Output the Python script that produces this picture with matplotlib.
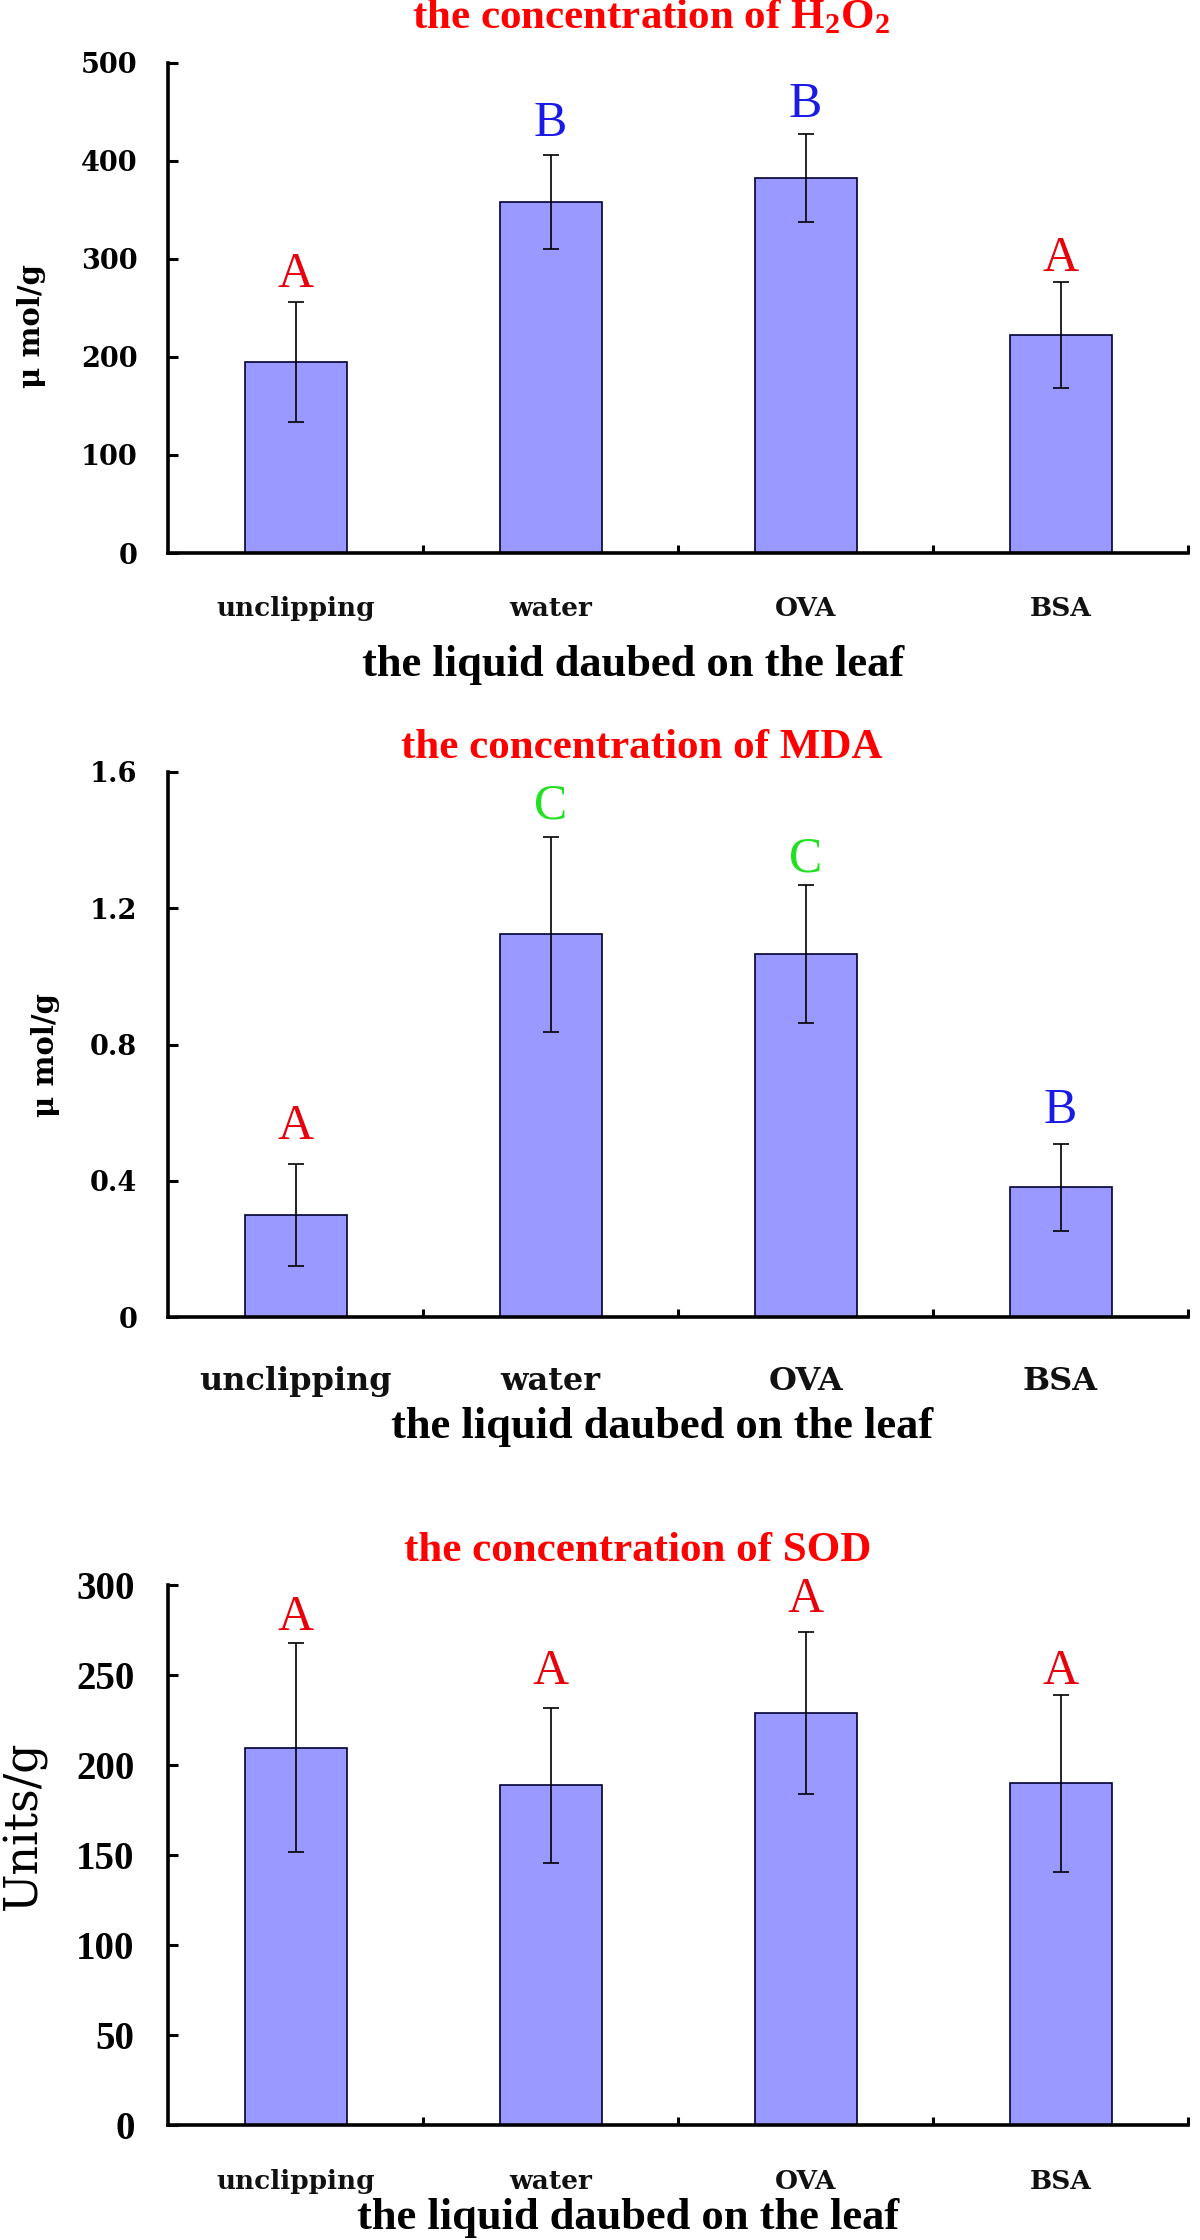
import matplotlib
matplotlib.use("Agg")
import matplotlib.pyplot as plt

plt.rcParams['mathtext.fontset'] = 'custom'
plt.rcParams['mathtext.rm'] = 'Liberation Serif:bold'
plt.rcParams['mathtext.it'] = 'Liberation Serif:bold'
plt.rcParams['mathtext.bf'] = 'Liberation Serif:bold'
plt.rcParams['mathtext.default'] = 'rm'

# ---------------- data ----------------
categories = ["unclipping", "water", "OVA", "BSA"]

h2o2_mean = [195, 358, 382, 222]
h2o2_err = [61, 48, 45, 54]
h2o2_letters = ["A", "B", "B", "A"]
h2o2_letter_y = [284, 438, 457, 300]
h2o2_letter_colors = ["#e8000b", "#1a1ae6", "#1a1ae6", "#e8000b"]
h2o2_yticks = [0, 100, 200, 300, 400, 500]
h2o2_yticklabels = ["0", "100", "200", "300", "400", "500"]

mda_mean = [0.30, 1.123, 1.066, 0.381]
mda_err = [0.15, 0.285, 0.203, 0.128]
mda_letters = ["A", "C", "C", "B"]
mda_letter_y = [0.559, 1.50, 1.345, 0.605]
mda_letter_colors = ["#e8000b", "#22e022", "#22e022", "#1a1ae6"]
mda_yticks = [0, 0.4, 0.8, 1.2, 1.6]
mda_yticklabels = ["0", "0.4", "0.8", "1.2", "1.6"]

sod_mean = [209.7, 188.7, 228.8, 189.8]
sod_err = [58, 43, 45, 49]
sod_letters = ["A", "A", "A", "A"]
sod_letter_y = [281.7, 252, 291.6, 252]
sod_letter_colors = ["#e8000b"] * 4
sod_yticks = [0, 50, 100, 150, 200, 250, 300]
sod_yticklabels = ["0", "50", "100", "150", "200", "250", "300"]

titles = [r"the concentration of H$_2$O$_2$",
          "the concentration of MDA",
          "the concentration of SOD"]
ylabels = ["\u03bc mol/g", "\u03bc mol/g", "Units/g"]
xlabel = "the liquid daubed on the leaf"

# ---------------- layout ----------------
W, H = 1200, 2240
fig = plt.figure(figsize=(W / 100, H / 100), dpi=100)

ax_left_px, ax_right_px = 168, 1188
panels = [
    dict(top=62.5, bottom=553, mean=h2o2_mean, err=h2o2_err, letters=h2o2_letters,
         ly=h2o2_letter_y, lc=h2o2_letter_colors, yt=h2o2_yticks, ytl=h2o2_yticklabels,
         ylim=(0, 500), tickfont=("DejaVu Serif", 19.5, "bold"), ypad=22,
         xfs=19, xpad=31, ylab_font=("DejaVu Serif", 21, "bold"),
         title_xy=(651, 7), title_va="top",
         xlabel_xy=(633, 665), ylabel_xy=(31, 326)),
    dict(top=772, bottom=1317, mean=mda_mean, err=mda_err, letters=mda_letters,
         ly=mda_letter_y, lc=mda_letter_colors, yt=mda_yticks, ytl=mda_yticklabels,
         ylim=(0, 1.6), tickfont=("DejaVu Serif", 19.5, "bold"), ypad=22,
         xfs=23, xpad=35, ylab_font=("DejaVu Serif", 21, "bold"),
         title_xy=(642, 756), title_va="center",
         xlabel_xy=(662, 1427), ylabel_xy=(45, 1055)),
    dict(top=1585, bottom=2125, mean=sod_mean, err=sod_err, letters=sod_letters,
         ly=sod_letter_y, lc=sod_letter_colors, yt=sod_yticks, ytl=sod_yticklabels,
         ylim=(0, 300), tickfont=("Liberation Serif", 28, "bold"), ypad=24,
         xfs=19, xpad=32, ylab_font=("DejaVu Serif", 33, "normal"),
         title_xy=(638, 1559), title_va="center",
         xlabel_xy=(628, 2218), ylabel_xy=(24, 1825)),
]

bar_color = "#9999ff"
edge_color = "#000033"
x = list(range(len(categories)))

for p, title, ylab in zip(panels, titles, ylabels):
    hpx = p["bottom"] - p["top"]
    ax = fig.add_axes([ax_left_px / W, 1 - p["bottom"] / H,
                       (ax_right_px - ax_left_px) / W, hpx / H])
    ax.bar(x, p["mean"], width=0.4, color=bar_color, edgecolor=edge_color,
           linewidth=1.2, zorder=2)
    ax.errorbar(x, p["mean"], yerr=p["err"], fmt="none", ecolor="black",
                elinewidth=1.2, capsize=5.8, capthick=1.2, zorder=3)
    for xi, letter, yy, c in zip(x, p["letters"], p["ly"], p["lc"]):
        ax.text(xi, yy, letter, ha="center", va="center", color=c,
                family="Liberation Serif", fontsize=36, zorder=4)

    ax.set_xlim(-0.5, 3.5)
    ax.set_ylim(*p["ylim"])
    for s in ("top", "right"):
        ax.spines[s].set_visible(False)
    for s in ("left", "bottom"):
        ax.spines[s].set_linewidth(2.6)
        ax.spines[s].set_color("black")

    ax.set_yticks(p["yt"])
    fam, fs, fw = p["tickfont"]
    ax.set_yticklabels(p["ytl"], family=fam, fontsize=fs, fontweight=fw)
    ax.tick_params(axis="y", direction="in", length=7, width=2.2, pad=p["ypad"])

    ax.set_xticks(x)
    ax.set_xticklabels(categories, family="DejaVu Serif", fontweight="bold",
                       fontsize=p["xfs"], color="#111111")
    ax.tick_params(axis="x", which="major", length=0, pad=p["xpad"])
    ax.set_xticks([0.5, 1.5, 2.5, 3.5], minor=True)
    ax.tick_params(axis="x", which="minor", direction="in", length=6, width=2.2)

    # title
    tx, ty = p["title_xy"]
    ax.set_title(title, x=(tx - ax_left_px) / (ax_right_px - ax_left_px),
                 y=(p["bottom"] - ty) / hpx, va=p["title_va"], ha="center",
                 color="#ff0000", family="Liberation Serif", fontweight="bold",
                 fontsize=31)

    # x label
    lx, lyy = p["xlabel_xy"]
    ax.set_xlabel(xlabel, family="Liberation Serif", fontweight="bold",
                  fontsize=32, va="center", ha="center")
    ax.xaxis.set_label_coords((lx - ax_left_px) / (ax_right_px - ax_left_px),
                              (p["bottom"] - lyy) / hpx)

    # y label
    yfam, yfs, yfw = p["ylab_font"]
    yx, yy = p["ylabel_xy"]
    ax.set_ylabel(ylab, family=yfam, fontsize=yfs, fontweight=yfw,
                  va="center", ha="center")
    ax.yaxis.set_label_coords((yx - ax_left_px) / (ax_right_px - ax_left_px),
                              (p["bottom"] - yy) / hpx)

fig.savefig("out.png", dpi=100)
